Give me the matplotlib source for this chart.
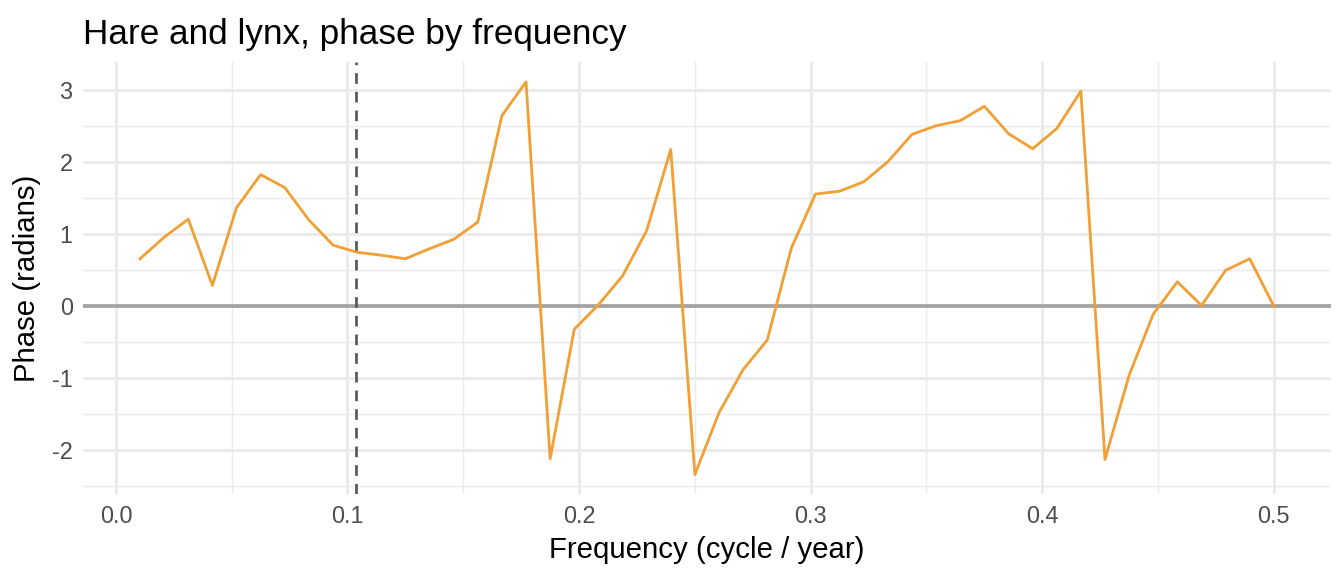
import numpy as np
import matplotlib.pyplot as plt

# frequencies k/96, k = 1..48
freq = np.arange(1, 49) / 96
phase = [0.66, 0.96, 1.21, 0.29, 1.37, 1.83, 1.65, 1.20, 0.85, 0.75,
         0.71, 0.66, 0.80, 0.93, 1.17, 2.65, 3.12, -2.12, -0.32, 0.02,
         0.42, 1.05, 2.18, -2.34, -1.48, -0.88, -0.47, 0.81, 1.56, 1.60,
         1.73, 2.01, 2.39, 2.51, 2.58, 2.78, 2.40, 2.19, 2.47, 2.99,
         -2.13, -0.96, -0.11, 0.34, 0.01, 0.50, 0.66, 0.00]
peak_freq = 0.1035

x_ticks = [0.0, 0.1, 0.2, 0.3, 0.4, 0.5]
x_labels = ['0.0', '0.1', '0.2', '0.3', '0.4', '0.5']
y_ticks = [-2, -1, 0, 1, 2, 3]

plt.rcParams['font.family'] = ['Liberation Sans', 'DejaVu Sans']
plt.rcParams['axes.unicode_minus'] = False

fig, ax = plt.subplots(figsize=(7, 3), dpi=192)
fig.subplots_adjust(left=0.062, right=0.99, top=0.892, bottom=0.142)

ax.axhline(0, color='#A3A3A3', lw=1.4, zorder=2)
ax.axvline(peak_freq, color='#555555', lw=1.0, ls=(0, (4, 3)), zorder=3)
ax.plot(freq, phase, color='#F0A035', lw=1.05, zorder=4)

# ggplot-style 5% expansion
xmin, xmax = freq.min(), freq.max()
ymin, ymax = min(phase), max(phase)
dx = (xmax - xmin) * 0.05
dy = (ymax - ymin) * 0.05
ax.set_xlim(xmin - dx, xmax + dx)
ax.set_ylim(ymin - dy, ymax + dy)

ax.set_xticks(x_ticks)
ax.set_xticklabels(x_labels)
ax.set_yticks(y_ticks)
ax.set_xticks([0.05, 0.15, 0.25, 0.35, 0.45], minor=True)
ax.set_yticks([-2.5, -1.5, -0.5, 0.5, 1.5, 2.5], minor=True)

ax.grid(which='major', color='#EBEBEB', lw=1.1, zorder=0)
ax.grid(which='minor', color='#EBEBEB', lw=0.55, zorder=0)
ax.set_axisbelow(True)
for s in ax.spines.values():
    s.set_visible(False)
ax.tick_params(which='both', length=0, labelsize=8.8, labelcolor='#4D4D4D', pad=4)

ax.set_xlabel('Frequency (cycle / year)', fontsize=11, labelpad=3)
ax.set_ylabel('Phase (radians)', fontsize=11, labelpad=4)
ax.set_title('Hare and lynx, phase by frequency', fontsize=13.2, loc='left', pad=7)

fig.savefig('out.png')
